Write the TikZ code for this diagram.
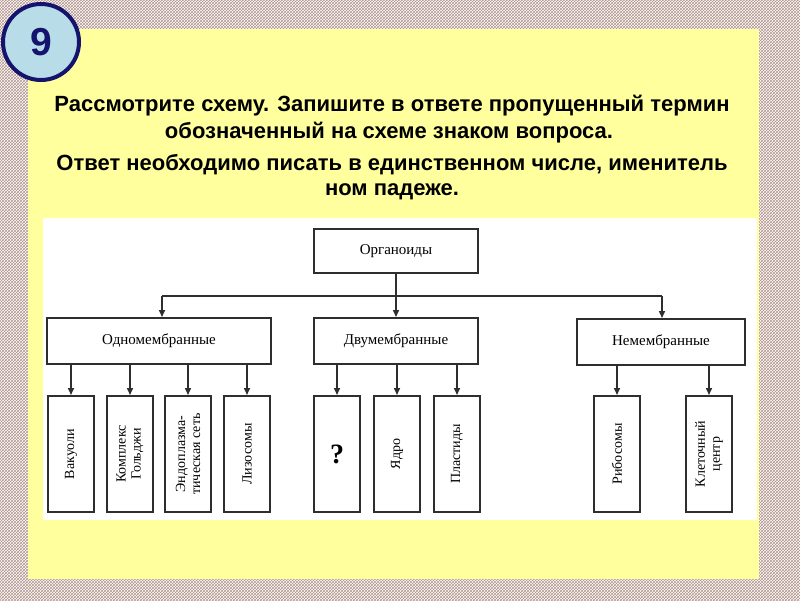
\documentclass[tikz,border=0pt]{standalone}
\usepackage{fontspec}
\setmainfont{Liberation Serif}
\newfontfamily\sansb{Liberation Sans}
\usetikzlibrary{arrows.meta,patterns}
\definecolor{panelyellow}{HTML}{FFFF9E}
\definecolor{navy}{HTML}{14146E}
\definecolor{circfill}{HTML}{B8DDE8}
\definecolor{hatch}{HTML}{B3958C}
\definecolor{linec}{HTML}{2E2E2E}
\tikzset{
  box/.style={draw=linec, line width=2pt, fill=white, inner sep=0pt, align=center, font=\fontsize{15}{16}\selectfont},
  hbox/.style={box, minimum height=46pt},
  vbox/.style={box, minimum width=46pt, minimum height=116pt},
  vtext/.style={rotate=90, align=center, font=\fontsize{14}{15}\selectfont, inner sep=0pt},
  arr/.style={draw=linec, line width=1.5pt, -{Triangle[length=7pt,width=6pt]}},
  ln/.style={draw=linec, line width=1.5pt},
  title/.style={font=\sansb\bfseries\fontsize{22}{24}\selectfont, inner sep=0pt}
}
\begin{document}
\begin{tikzpicture}[x=1pt,y=-1pt]
\useasboundingbox (0,0) rectangle (800,600);
\fill[white] (0,0) rectangle (800,600);
\fill[pattern=crosshatch, pattern color=hatch] (0,0) rectangle (800,600);
\fill[panelyellow] (28,29) rectangle (759,579);
\fill[white] (43,218) rectangle (757,520);

\node[circle, draw=navy, line width=4pt, fill=circfill, minimum size=76pt, inner sep=0pt,
      font=\sansb\bfseries\fontsize{39}{40}\selectfont, text=navy] (num) at (41,42) {9};

\node[title] (t1) at (392,106) {Рассмотрите схему. Запишите в ответе пропущенный термин};
\node[title] (t2) at (389,133) {обозначенный на схеме знаком вопроса.};
\node[title] (t3) at (392,165) {Ответ необходимо писать в единственном числе, именитель};
\node[title] (t4) at (392,192) {ном падеже.};

\node[box, minimum width=164pt, minimum height=44pt] (org) at (396,251) {Органоиды};
\node[hbox, minimum width=224pt] (one) at (159,341) {Одномембранные};
\node[hbox, minimum width=164pt] (two) at (396,341) {Двумембранные};
\node[hbox, minimum width=168pt] (non) at (661,342) {Немембранные};

\node[vbox] (v1) at (71,454) {};
\node[vtext] at (v1) {Вакуоли};
\node[vbox] (v2) at (130,454) {};
\node[vtext] at (v2) {Комплекс\\Гольджи};
\node[vbox] (v3) at (188,454) {};
\node[vtext] at (v3) {Эндоплазма-\\тическая сеть};
\node[vbox] (v4) at (247,454) {};
\node[vtext] at (v4) {Лизосомы};
\node[vbox, font=\bfseries\fontsize{28}{30}\selectfont] (q) at (337,454) {?};
\node[vbox] (ya) at (397,454) {};
\node[vtext] at (ya) {Ядро};
\node[vbox] (pl) at (457,454) {};
\node[vtext] at (pl) {Пластиды};
\node[vbox] (ri) at (617,454) {};
\node[vtext] at (ri) {Рибосомы};
\node[vbox] (kc) at (709,454) {};
\node[vtext] at (kc) {Клеточный\\центр};

\coordinate (j) at (396,296);
\draw[ln] (org.south) -- (j);
\draw[ln] (162,296) -- (662,296);
\coordinate (jl) at (162,296);
\coordinate (jr) at (662,296);
\draw[arr] (j) -- (two.north);
\draw[arr] (jl) -- (jl |- one.north);
\draw[arr] (jr) -- (jr |- non.north);

\foreach \b/\p in {v1/one, v2/one, v3/one, v4/one, q/two, ya/two, pl/two, ri/non, kc/non}{
  \draw[arr] (\b.north |- \p.south) -- (\b.north);
}
\end{tikzpicture}
\end{document}
